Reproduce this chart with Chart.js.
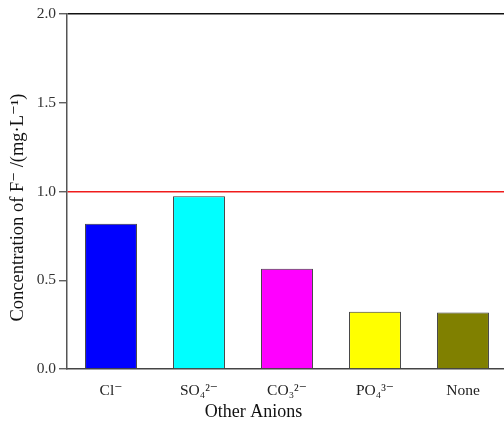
<!DOCTYPE html>
<html>
<head>
<meta charset="utf-8">
<script src="https://cdn.jsdelivr.net/npm/chart.js@4"></script>
<style>
  html, body { margin: 0; padding: 0; background: #fff; overflow: hidden; }
  #wrap { width: 510px; height: 421px; }
</style>
</head>
<body>
<div id="wrap"><canvas id="barChart" width="510" height="421"></canvas></div>
<script>
var anions = ['Cl\u207B', 'SO\u2084\u00B2\u207B', 'CO\u2083\u00B2\u207B', 'PO\u2084\u00B3\u207B', 'None'];
var fluoride = [0.818, 0.973, 0.565, 0.322, 0.318];
var barColors = ['#0000FF', '#00FFFF', '#FF00FF', '#FFFF00', '#808000'];
var yTicks = [0.0, 0.5, 1.0, 1.5, 2.0];
var limit = 1.0;

var serif = "'Liberation Serif', 'DejaVu Serif', serif";
var yTitle = 'Concentration of F\u207B /(mg\u00B7L\u207B\u00B9)';

// y axis title, drawn a bit below the middle of the axis like the original
var yTitlePlugin = {
    id: 'yTitle',
    afterDraw: function (chart) {
        var c = chart.ctx;
        var area = chart.chartArea;
        c.save();
        c.translate(18, (area.top + area.bottom) / 2 + 16);
        c.rotate(-Math.PI / 2);
        c.font = '18.5px ' + serif;
        c.fillStyle = '#111';
        c.textAlign = 'center';
        c.textBaseline = 'middle';
        c.fillText(yTitle, 0, 0);
        c.restore();
    }
};

var ctx = document.getElementById('barChart').getContext('2d');
var myChart = new Chart(ctx, {
    type: 'bar',
    data: {
        labels: anions,
        datasets: [{
            data: fluoride,
            backgroundColor: barColors,
            borderColor: '#3a3a3a',
            borderWidth: 1,
            barPercentage: 0.59,
            categoryPercentage: 1.0
        }]
    },
    plugins: [yTitlePlugin],
    options: {
        responsive: false,
        animation: false,
        layout: { padding: { top: 14, right: 3, left: 0, bottom: 0 } },
        plugins: {
            legend: { display: false },
            tooltip: { enabled: false },
            title: {
                display: true,
                position: 'bottom',
                fullSize: true,
                text: 'Other Anions',
                color: '#111',
                font: { family: serif, size: 18, weight: 'normal', lineHeight: 1 },
                padding: { top: 0, bottom: 0 }
            }
        },
        scales: {
            x: {
                offset: true,
                grid: { display: false, drawTicks: false },
                border: { color: '#444', width: 1.5 },
                ticks: {
                    color: '#222',
                    padding: 13,
                    font: { family: serif, size: 15.5 }
                },
                afterFit: function (scale) { scale.height = 34; }
            },
            y: {
                min: 0,
                max: 2.0,
                afterBuildTicks: function (scale) {
                    scale.ticks = yTicks.map(function (v) { return { value: v }; });
                },
                grid: {
                    color: function (c) {
                        if (c.tick && c.tick.value === 2) return '#111';
                        if (c.tick && c.tick.value === limit) return '#f01c1c';
                        return 'rgba(0,0,0,0)';
                    },
                    lineWidth: 1.5,
                    tickColor: '#444',
                    tickLength: 8,
                    tickWidth: 1.2
                },
                border: { color: '#555', width: 1.5 },
                ticks: {
                    color: '#333',
                    padding: 3,
                    font: { family: serif, size: 15.5 },
                    callback: function (v) { return Number(v).toFixed(1); }
                },
                afterFit: function (scale) { scale.width = 67; }
            }
        }
    }
});
</script>
</body>
</html>
